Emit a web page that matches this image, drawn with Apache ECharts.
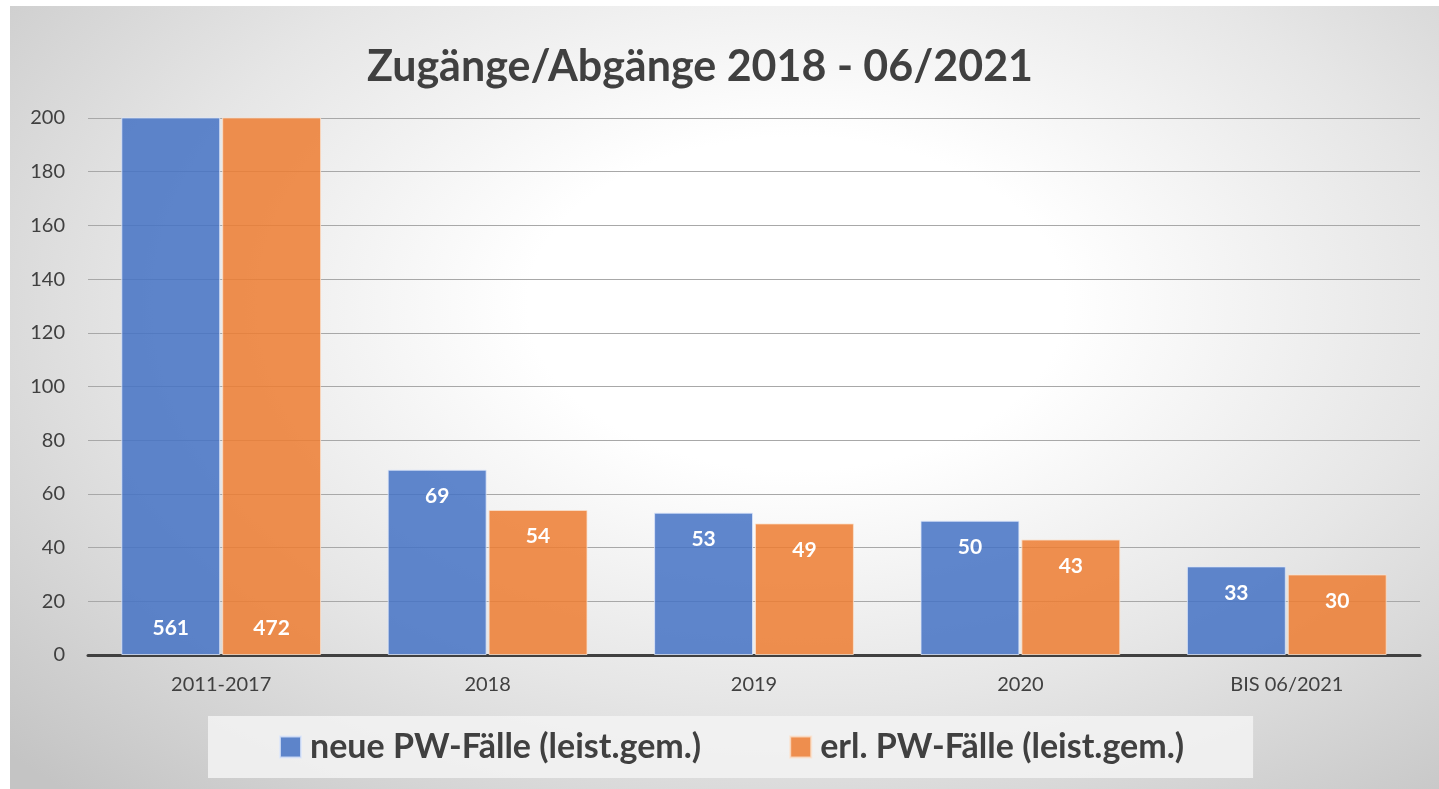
<!DOCTYPE html>
<html>
<head>
<meta charset="utf-8">
<script src="https://cdn.jsdelivr.net/npm/echarts@6/dist/echarts.min.js"></script>
<style>
  html, body { margin: 0; padding: 0; background: #ffffff; }
  #chart {
    position: absolute; left: 10px; top: 6px; width: 1429px; height: 783px;
    background: radial-gradient(ellipse 75% 85% at 55% 38%, #ffffff 0%, #ffffff 25%, #e6e6e6 60%, #c4c4c4 100%);
  }
</style>
</head>
<body>
<div id="chart"></div>
<script>
const categories = ['2011-2017', '2018', '2019', '2020', 'BIS 06/2021'];
const newCases = [561, 69, 53, 50, 33];
const closedCases = [472, 54, 49, 43, 30];
const yTicks = { min: 0, max: 200, interval: 20 };
const seriesNames = ['neue PW-Fälle (leist.gem.)', 'erl. PW-Fälle (leist.gem.)'];

const FONT = 'Lato, "Open Sans", sans-serif';
const textDark = '#404040';

function buildData(values) {
  return values.map(v => {
    const clipped = v > yTicks.max;
    return {
      value: v,
      label: clipped
        ? { position: 'insideBottom', distance: 16 }
        : { position: 'insideTop', distance: 16 }
    };
  });
}

const chart = echarts.init(document.getElementById('chart'), null, { renderer: 'canvas' });
chart.setOption({
  backgroundColor: 'transparent',
  textStyle: { fontFamily: FONT },
  title: {
    text: 'Zugänge/Abgänge 2018 - 06/2021',
    left: 685, top: 35, textAlign: 'center',
    textStyle: { fontFamily: FONT, fontSize: 43, fontWeight: 'bold', color: textDark }
  },
  grid: { left: 78, right: 19, top: 112, bottom: 134, containLabel: false },
  legend: {
    data: seriesNames,
    left: 198, top: 710,
    padding: [14, 69, 14, 71],
    backgroundColor: 'rgba(243,243,243,0.85)',
    itemWidth: 21, itemHeight: 21, itemGap: 88,
    icon: 'rect',
    textStyle: { fontFamily: FONT, fontSize: 34, lineHeight: 34, fontWeight: 'bold', color: textDark, padding: [0, 0, 0, 4] }
  },
  xAxis: {
    type: 'category',
    data: categories,
    axisLine: { lineStyle: { color: '#404040', width: 3 } },
    axisTick: { show: false },
    axisLabel: { color: textDark, fontSize: 20, margin: 20, fontFamily: FONT }
  },
  yAxis: {
    type: 'value',
    min: yTicks.min, max: yTicks.max, interval: yTicks.interval,
    axisLine: { show: false },
    axisTick: { show: false },
    axisLabel: { color: textDark, fontSize: 20, margin: 23, fontFamily: FONT },
    splitLine: { lineStyle: { color: '#a8a8a8', width: 1 } }
  },
  series: [
    {
      name: seriesNames[0], type: 'bar',
      data: buildData(newCases),
      clip: true,
      barGap: '2%', barCategoryGap: '25%',
      itemStyle: { color: 'rgba(68,114,196,0.85)', borderColor: 'rgba(220,230,250,0.8)', borderWidth: 1 },
      label: { show: true, color: '#ffffff', fontSize: 21, fontWeight: 'bold', fontFamily: FONT }
    },
    {
      name: seriesNames[1], type: 'bar',
      data: buildData(closedCases),
      clip: true,
      barGap: '2%', barCategoryGap: '25%',
      itemStyle: { color: 'rgba(237,125,49,0.85)', borderColor: 'rgba(250,225,205,0.8)', borderWidth: 1 },
      label: { show: true, color: '#ffffff', fontSize: 21, fontWeight: 'bold', fontFamily: FONT }
    }
  ]
});
</script>
</body>
</html>
